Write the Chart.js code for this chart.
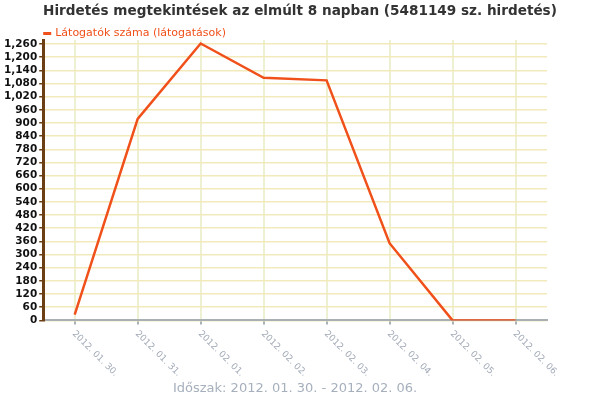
<!DOCTYPE html>
<html>
<head>
<meta charset="utf-8">
<script src="https://cdn.jsdelivr.net/npm/chart.js@4.4.1/dist/chart.umd.min.js"></script>
<style>
  html, body { margin: 0; padding: 0; background: #fff; }
  #wrap { width: 597px; height: 398px; }
</style>
</head>
<body>
<div id="wrap"><canvas id="viewsChart" width="597" height="398"></canvas></div>
<script>
// === Données du graphique
const napok = ["2012. 01. 30.", "2012. 01. 31.", "2012. 02. 01.", "2012. 02. 02.", "2012. 02. 03.", "2012. 02. 04.", "2012. 02. 05.", "2012. 02. 06."];
const latogatasok = [26, 918, 1262, 1106, 1094, 352, 0, 0];
const sorozatNev = "Látogatók száma (látogatások)";
const cim = "Hirdetés megtekintések az elmúlt 8 napban (5481149 sz. hirdetés)";
const tengelyCim = "Időszak: 2012. 01. 30. - 2012. 02. 06.";
const yLepes = 60;
const yMax = 1278;

const LINE = "#f0501a";
const FONT = "'DejaVu Sans', Verdana, sans-serif";

// titre, légende et étiquettes x tournées vers le bas
const decor = {
  id: "decor",
  afterDraw(chart) {
    const ctx = chart.ctx;
    const x = chart.scales.x;
    ctx.save();

    // titre
    ctx.fillStyle = "#333";
    ctx.font = "bold 13.6px " + FONT;
    ctx.textAlign = "center";
    ctx.textBaseline = "middle";
    ctx.fillText(cim, 300, 11);

    ctx.fillStyle = "#a3abb8";
    ctx.font = "9px " + FONT;
    ctx.textAlign = "left";
    napok.forEach((nap, i) => {
      const px = x.getPixelForTick(i);
      ctx.save();
      ctx.translate(px - 1, x.top + 12);
      ctx.rotate(Math.PI / 4);
      ctx.fillText(nap, 0, 0);
      ctx.restore();
    });

    // légende
    const left = chart.chartArea.left;
    ctx.fillStyle = LINE;
    ctx.fillRect(left, 32, 8, 3);
    ctx.font = "11px " + FONT;
    ctx.fillText(sorozatNev, left + 12, 33);
    ctx.restore();
  }
};

const ctx = document.getElementById("viewsChart").getContext("2d");
new Chart(ctx, {
  type: "line",
  data: {
    labels: napok,
    datasets: [{
      label: sorozatNev,
      data: latogatasok,
      borderColor: LINE,
      backgroundColor: LINE,
      borderWidth: 2.5,
      pointRadius: 0,
      tension: 0
    }]
  },
  options: {
    responsive: false,
    animation: false,
    layout: { padding: { left: 2, right: 50, top: 40, bottom: 0 } },
    plugins: {
      legend: { display: false },
      tooltip: { enabled: false },
      title: { display: false }
    },
    scales: {
      x: {
        offset: true,
        grid: {
          offset: false,
          color: "#eef0d2",
          lineWidth: 2,
          tickColor: "#a8b0b8",
          tickLength: 4
        },
        border: { color: "#a8b0b4", width: 2 },
        ticks: { display: false },
        title: {
          display: true,
          text: tengelyCim,
          color: "#a6b0bd",
          font: { family: FONT, size: 13 },
          padding: { top: 56, bottom: 2 }
        }
      },
      y: {
        min: 0,
        max: yMax,
        grid: {
          color: "#f3eabb",
          lineWidth: 1.5,
          tickColor: "#6b3e14",
          tickLength: 4
        },
        border: { color: "#6b3e14", width: 3 },
        ticks: {
          stepSize: yLepes,
          autoSkip: false,
          includeBounds: false,
          color: "#111",
          padding: 2,
          font: { family: FONT, size: 10.5, weight: "bold" }
        },
        afterBuildTicks(scale) {
          scale.ticks = scale.ticks.filter(t => Math.abs(t.value % yLepes) < 1e-6);
        }
      }
    }
  },
  plugins: [decor]
});
</script>
</body>
</html>
